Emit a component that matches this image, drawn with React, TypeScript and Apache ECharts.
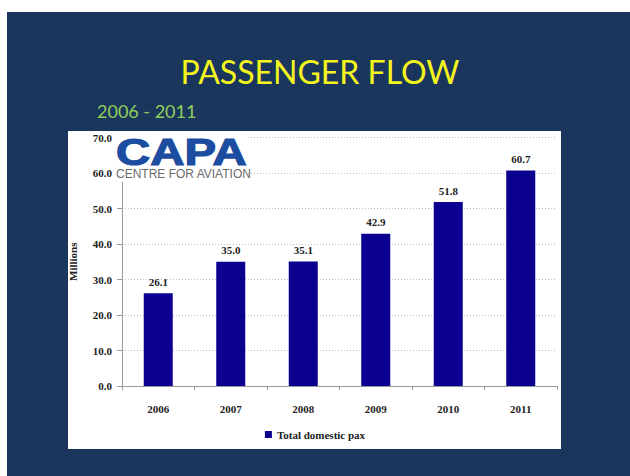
import React, { useEffect, useRef } from "react";
import * as echarts from "echarts";

const categories = ["2006", "2007", "2008", "2009", "2010", "2011"];
const paxValues = [26.1, 35.0, 35.1, 42.9, 51.8, 60.7];
const seriesName = "Total domestic pax";
const titleText = "PASSENGER FLOW";
const subtitleText = "2006 - 2011";
const yAxisName = "Millions";

const SERIF = "'Liberation Serif', 'Times New Roman', serif";

export default function App() {
  const ref = useRef<HTMLDivElement>(null);
  useEffect(() => {
    document.body.style.margin = "0";
    const chart = echarts.init(ref.current!, null, { renderer: "svg" });
    chart.setOption({
      animation: false,
      backgroundColor: "#ffffff",
      graphic: [
        { type: "rect", z: -20, shape: { x: 7, y: 12, width: 623, height: 464 }, style: { fill: "#1b365d" } },
        { type: "rect", z: -19, shape: { x: 68, y: 131, width: 493, height: 318 }, style: { fill: "#ffffff" } },
        {
          type: "text", z: 5, x: 320, y: 71,
          style: { text: titleText, fill: "#f5f51e", font: "32px Lato, 'Open Sans', sans-serif", textAlign: "center", textVerticalAlign: "middle" },
        },
        {
          type: "text", z: 5, x: 97, y: 111,
          style: { text: subtitleText, fill: "#8fcf5a", font: "18px Lato, 'Open Sans', sans-serif", textAlign: "left", textVerticalAlign: "middle" },
        },
        { type: "rect", z: 5, shape: { x: 114, y: 133, width: 132, height: 49 }, style: { fill: "#ffffff" } },
        {
          type: "text", z: 6, x: 116, y: 152, scaleX: 1.28,
          style: { text: "CAPA", fill: "#1c4da1", stroke: "#1c4da1", lineWidth: 1.2, font: "bold 37px 'Liberation Sans', Arial, sans-serif", textAlign: "left", textVerticalAlign: "middle" },
        },
        {
          type: "text", z: 6, x: 116, y: 174,
          style: { text: "CENTRE FOR AVIATION", fill: "#6b6b6b", font: "12px 'Liberation Sans', Arial, sans-serif", textAlign: "left", textVerticalAlign: "middle" },
        },
      ],
      grid: { left: 122, right: 73, top: 137.5, bottom: 90, containLabel: false },
      legend: {
        data: [seriesName],
        bottom: 31,
        left: "center",
        itemWidth: 7,
        itemHeight: 7,
        itemGap: 4,
        icon: "rect",
        textStyle: { fontFamily: SERIF, fontWeight: "bold", fontSize: 11, color: "#222" },
      },
      xAxis: {
        type: "category",
        data: categories,
        axisLine: { lineStyle: { color: "#999", width: 1 } },
        axisTick: { show: true, length: 4, lineStyle: { color: "#999" } },
        axisLabel: { margin: 17, fontFamily: SERIF, fontWeight: "bold", fontSize: 11, color: "#222" },
      },
      yAxis: {
        type: "value",
        min: 0,
        max: 70,
        interval: 10,
        name: yAxisName,
        nameLocation: "middle",
        nameGap: 44,
        nameTextStyle: { fontFamily: SERIF, fontWeight: "bold", fontSize: 11, color: "#222" },
        axisLine: { show: true, lineStyle: { color: "#999", width: 1 } },
        axisTick: { show: true, length: 5, lineStyle: { color: "#999" } },
        axisLabel: {
          margin: 10,
          fontFamily: SERIF,
          fontWeight: "bold",
          fontSize: 11,
          color: "#222",
          formatter: (v: number) => v.toFixed(1),
        },
        splitLine: { show: true, lineStyle: { color: "#bdbdbd", type: [1, 2], width: 1 } },
      },
      series: [
        {
          name: seriesName,
          type: "bar",
          data: paxValues,
          barWidth: 29,
          itemStyle: { color: "#0b0090" },
          label: {
            show: true,
            position: "top",
            distance: 6,
            fontFamily: SERIF,
            fontWeight: "bold",
            fontSize: 11,
            color: "#222",
            formatter: (p: any) => Number(p.value).toFixed(1),
          },
        },
      ],
    });
    return () => chart.dispose();
  }, []);
  return <div ref={ref} style={{ width: 630, height: 476, position: "absolute", left: 0, top: 0 }} />;
}
